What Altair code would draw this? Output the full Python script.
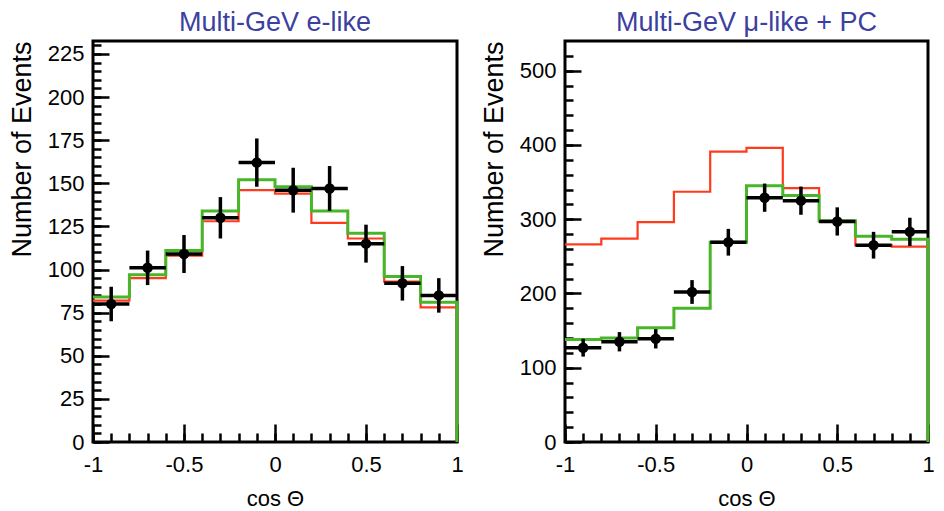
import altair as alt
import pandas as pd

# ---------------- data ----------------
edges = [-1.0, -0.8, -0.6, -0.4, -0.2, 0.0, 0.2, 0.4, 0.6, 0.8, 1.0]
centers = [-0.9, -0.7, -0.5, -0.3, -0.1, 0.1, 0.3, 0.5, 0.7, 0.9]

# Multi-GeV e-like
e_data = [80, 101, 109, 130, 162, 146, 147, 115, 92, 85]
e_err = [10, 10, 11, 12, 14, 13, 13, 11, 10, 10]
e_osc = [84, 97, 111, 134, 152, 148, 134, 121, 96, 81]     # green
e_null = [82, 95, 108, 128, 146, 144, 127, 118, 93, 78]    # red

# Multi-GeV mu-like + PC
mu_data = [127, 135, 139, 202, 269, 329, 325, 297, 265, 283]
mu_err = [12, 13, 13, 16, 18, 19, 19, 19, 18, 19]
mu_osc = [138, 140, 154, 180, 269, 345, 332, 298, 277, 273]  # green
mu_null = [266, 274, 296, 337, 391, 396, 342, 297, 265, 263]  # red

x_major = [-1, -0.5, 0, 0.5, 1]
x_minor = [-1, -0.9, -0.8, -0.7, -0.6, -0.5, -0.4, -0.3, -0.2, -0.1, 0,
           0.1, 0.2, 0.3, 0.4, 0.5, 0.6, 0.7, 0.8, 0.9, 1]
e_y_major = [0, 25, 50, 75, 100, 125, 150, 175, 200, 225]
e_y_minor = list(range(0, 235, 5))
mu_y_major = [0, 100, 200, 300, 400, 500]
mu_y_minor = list(range(0, 540, 20))

titles = ["Multi-GeV e-like", "Multi-GeV \u03bc-like + PC"]

RED = "#ff3b1e"
GREEN = "#48b628"
TITLE_COLOR = "#3c40a0"
FONT = "Liberation Sans"


def step_frame(vals):
    rows = [{"x": edges[i], "y": vals[i], "o": i} for i in range(len(vals))]
    rows.append({"x": edges[-1], "y": vals[-1], "o": len(vals)})
    rows.append({"x": edges[-1], "y": 0, "o": len(vals) + 1})
    return pd.DataFrame(rows)


def panel(title, data, err, osc, null, ymax, ymaj, ymin, w):
    xs = alt.Scale(domain=[-1, 1], nice=False, zero=False)
    ys = alt.Scale(domain=[0, ymax], nice=False, zero=True)

    x_axis_major = alt.Axis(orient="bottom", values=x_major, tickSize=18, offset=-18,
                            domain=False, grid=False, labelPadding=12, labelFontSize=22,
                            labelFont=FONT, labelColor="black", labelExpr="'' + datum.value",
                            tickColor="black", tickWidth=2.5, title="cos \u0398",
                            titleFont=FONT, titleFontSize=22, titleFontWeight="normal",
                            titleColor="black", titlePadding=13, labelFlush=False,
                            labelOverlap=False)
    x_axis_minor = alt.Axis(orient="bottom", values=x_minor, tickSize=9, offset=-9,
                            domain=False, grid=False, labels=False, tickColor="black",
                            tickWidth=2.5, title=None)
    y_axis_major = alt.Axis(orient="left", values=ymaj, tickSize=16, offset=-16,
                            domain=False, grid=False, labelPadding=9, labelFontSize=22,
                            labelFont=FONT, labelColor="black", tickColor="black",
                            tickWidth=2.5, title="Number of Events", titleFont=FONT,
                            titleFontSize=27, titleFontWeight="normal", titleColor="black",
                            titlePadding=11, titleAnchor="end", labelOverlap=False)
    y_axis_minor = alt.Axis(orient="left", values=ymin, tickSize=8, offset=-8,
                            domain=False, grid=False, labels=False, tickColor="black",
                            tickWidth=2.5, title=None)

    frame = alt.Chart(pd.DataFrame({"f": [0]})).mark_rect(
        fillOpacity=0, stroke="black", strokeWidth=3
    ).encode(
        x=alt.value(0), x2=alt.value("width"), y=alt.value(0), y2=alt.value("height")
    )

    red = alt.Chart(step_frame(null)).mark_line(
        interpolate="step-after", color=RED, strokeWidth=2.2
    ).encode(
        x=alt.X("x:Q", scale=xs, axis=x_axis_major),
        y=alt.Y("y:Q", scale=ys, axis=y_axis_major),
        order="o:Q",
    )
    green = alt.Chart(step_frame(osc)).mark_line(
        interpolate="step-after", color=GREEN, strokeWidth=3
    ).encode(
        x=alt.X("x:Q", scale=xs, axis=x_axis_minor),
        y=alt.Y("y:Q", scale=ys, axis=y_axis_minor),
        order="o:Q",
    )

    pts = pd.DataFrame({
        "c": centers,
        "lo": edges[:-1],
        "hi": edges[1:],
        "v": data,
        "vlo": [d - e for d, e in zip(data, err)],
        "vhi": [d + e for d, e in zip(data, err)],
    })
    base = alt.Chart(pts)
    hbar = base.mark_rule(color="black", strokeWidth=3.5).encode(
        x=alt.X("lo:Q", scale=xs, axis=None), x2="hi:Q",
        y=alt.Y("v:Q", scale=ys, axis=None),
    )
    vbar = base.mark_rule(color="black", strokeWidth=3.5).encode(
        x=alt.X("c:Q", scale=xs, axis=None),
        y=alt.Y("vlo:Q", scale=ys, axis=None), y2="vhi:Q",
    )
    dots = base.mark_point(filled=True, color="black", size=110, opacity=1, shape="circle").encode(
        x=alt.X("c:Q", scale=xs, axis=None),
        y=alt.Y("v:Q", scale=ys, axis=None),
    )

    return alt.layer(frame, red, green, hbar, vbar, dots).resolve_axis(
        x="independent", y="independent"
    ).properties(
        width=w, height=401,
        title=alt.TitleParams(title, fontSize=27, font=FONT, color=TITLE_COLOR,
                              fontWeight="normal", anchor="middle", offset=3),
    )


left = panel(titles[0], e_data, e_err, e_osc, e_null, 232.5, e_y_major, e_y_minor, 364)
right = panel(titles[1], mu_data, mu_err, mu_osc, mu_null, 540, mu_y_major, mu_y_minor, 363)

chart = alt.hconcat(left, right, spacing=16).configure_view(
    stroke="transparent", strokeWidth=0
).properties(
    background="white",
    padding={"left": 0, "top": 0, "right": 0, "bottom": 0},
)

chart.save("out.html", embed_options={"renderer": "svg", "actions": False})
